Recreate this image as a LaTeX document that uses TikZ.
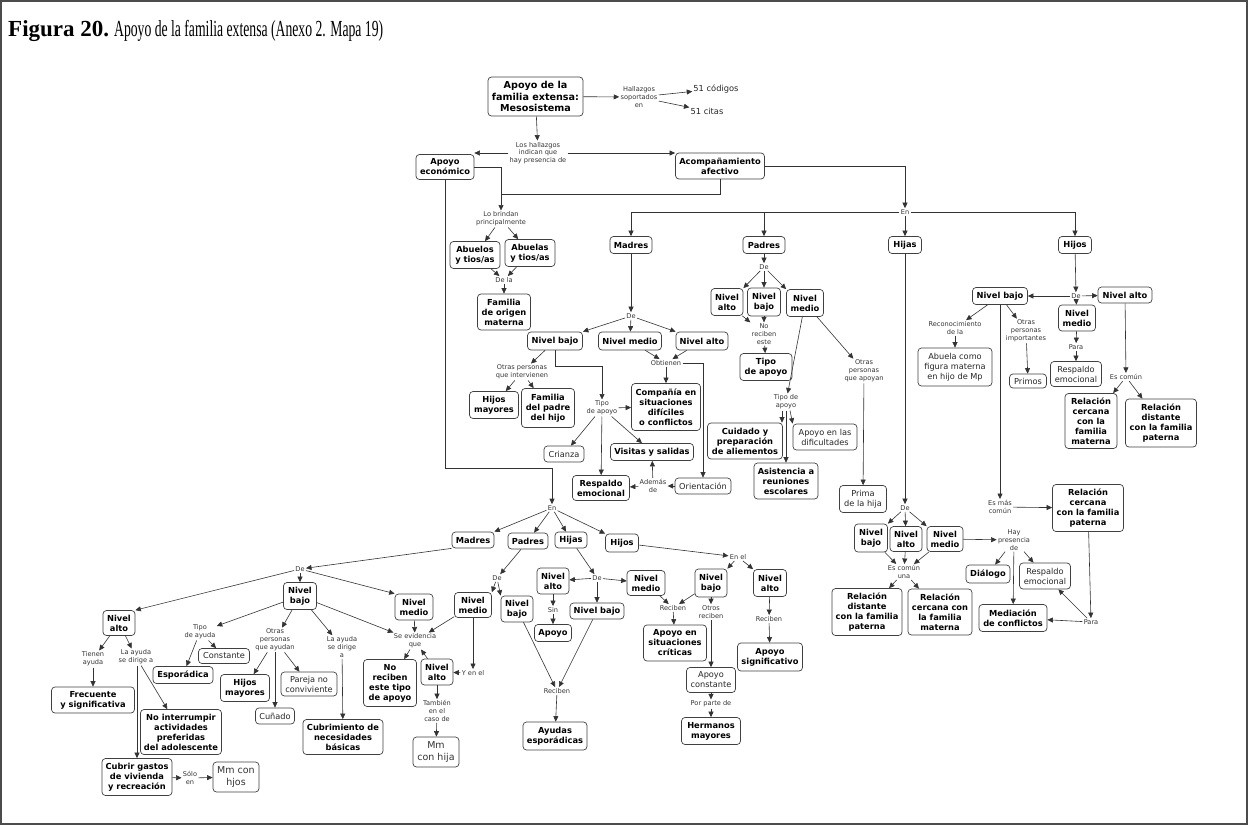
\documentclass[tikz,border=0pt]{standalone}
\usepackage{fontspec}
\usepackage{graphicx}
\setmainfont{DejaVu Sans}
\newfontfamily\ttlfont{Liberation Serif}
\usetikzlibrary{arrows.meta,calc}
\tikzset{
 bx/.style={draw=black!75, line width=0.7pt, rounded corners=3.5pt, fill=white, align=center, inner sep=1.5pt, font=\fontsize{8.3}{10}\selectfont\bfseries, text=black},
 rx/.style={bx, font=\fontsize{8.2}{10}\selectfont\mdseries, text=black!85},
 mx/.style={bx, font=\fontsize{9.5}{12}\selectfont\mdseries, text=black!80},
 rootbx/.style={bx, font=\fontsize{9.6}{11.5}\selectfont\bfseries},
 lk/.style={align=center, inner sep=1.2pt, font=\fontsize{6.6}{7.8}\selectfont, text=black!80},
 pt/.style={align=center, inner sep=1pt, font=\fontsize{8.3}{10}\selectfont, text=black!85},
 ar/.style={draw=black!80, line width=0.6pt, -{Triangle[length=5.5pt,width=5pt]}},
 ln/.style={draw=black!80, line width=0.6pt},
}
\newcommand\mybox[7][bx]{\node[#1,minimum width=#5,minimum height=#6] (#2) at (#3,#4) {#7};}
\newcommand\mylab[4]{\node[lk] (#1) at (#2,#3) {#4};}
\begin{document}
\begin{tikzpicture}[x=1pt,y=-1pt]
\useasboundingbox (0,0) rectangle (1248,825);
\draw[black!70, line width=1.5pt] (1,1) rectangle (1247,824);
\node[anchor=base west, inner sep=0, font=\fontsize{23}{23}\ttlfont] (title) at (8,36) {\textbf{Figura 20.}\hspace{5pt}\scalebox{0.595}[1]{Apoyo de la familia extensa (Anexo 2. Mapa 19)}};

% ---------- top ----------
\mybox[rootbx]{root}{535.5}{96.5}{95}{39}{Apoyo de la\\familia extensa:\\Mesosistema}
\mylab{lhall}{639}{97}{Hallazgos\\soportados\\en}
\node[pt] (c51) at (716,89) {51 códigos};
\node[pt] (c51b) at (707,111) {51 citas};
\draw[ar] (root) -- (lhall);
\draw[ar] (lhall) -- (c51);
\draw[ar] (lhall) -- (c51b);
\mylab{llos}{538}{153}{Los hallazgos\\indican que\\hay presencia de}
\draw[ar] (root) -- (llos);
\mybox{aeco}{445}{167}{58}{25}{Apoyo\\económico}
\mybox{acom}{720}{166}{89}{26}{Acompañamiento\\afectivo}
\draw[ar] (llos.west) -- (aeco.east |- llos.west);
\draw[ar] (llos.east) -- (acom.north west |- llos.east);

\mylab{llob}{501}{219}{Lo brindan\\principalmente}
\coordinate (j1) at (501,194);
\draw[ar] (aeco.east) -| (llob.north);
\draw[ln] (acom.south) |- (j1);
\mybox{aos}{475}{255}{50}{27}{Abuelos\\y tios/as}
\mybox{aas}{530}{253}{50}{27}{Abuelas\\y tios/as}
\draw[ar] (llob) -- (aos);
\draw[ar] (llob) -- (aas);
\mylab{ldela}{504}{280}{De la}
\draw[ar] (aos) -- (ldela);
\draw[ar] (aas) -- (ldela);
\mybox{fam}{504}{312}{53}{36}{Familia\\de origen\\materna}
\draw[ar] (ldela) -- (fam);

\mylab{lenA}{905}{212}{En}
\draw[ar] (acom.east) -| (lenA.north);
\mybox{madA}{631}{245}{42}{17}{Madres}
\mybox{padA}{764}{245}{42}{17}{Padres}
\mybox{hijaA}{905}{245}{33}{17}{Hijas}
\mybox{hijoA}{1075}{245}{33}{17}{Hijos}
\draw[ar] (lenA.west) -| (madA.north);
\draw[ar] (padA.north |- lenA.west) -- (padA.north);
\draw[ar] (lenA) -- (hijaA);
\draw[ar] (lenA.east) -| (hijoA.north);

% ---------- Madres (A) ----------
\mylab{ldeM}{631}{316}{De}
\draw[ar] (madA) -- (ldeM);
\mybox{nbM}{555}{341}{55}{18}{Nivel bajo}
\mybox{nmM}{630}{341}{63}{18}{Nivel medio}
\mybox{naM}{702}{341}{52}{18}{Nivel alto}
\draw[ar] (ldeM) -- (nbM.north east);
\draw[ar] (ldeM) -- (nmM);
\draw[ar] (ldeM) -- (naM.north west);
\mylab{lobt}{666}{363}{Obtienen}
\draw[ar] (nmM) -- (lobt);
\draw[ar] (naM) -- (lobt);
\mybox{comp}{666}{407}{69}{47}{Compañía en\\situaciones\\difíciles\\o conflictos}
\draw[ar] (lobt) -- (comp);
\mybox[rx]{orie}{703}{486}{56}{16}{Orientación}
\draw[ar] (lobt.east) -| (orie.north);
\mylab{lotM}{522}{372}{Otras personas\\que intervienen}
\draw[ar] (nbM) -- (lotM);
\mybox{hmM}{494}{405}{49}{27}{Hijos\\mayores}
\mybox{fpM}{548}{408}{53}{39}{Familia\\del padre\\del hijo}
\draw[ar] (lotM) -- (hmM);
\draw[ar] (lotM) -- (fpM);
\mylab{ltipM}{602}{408}{Tipo\\de apoyo}
\draw[ar] (nbM.south) |- ++(0,16) -| (ltipM.north);
\draw[ar] (ltipM) -- (comp);
\mybox[rx]{crian}{564}{454}{40}{16}{Crianza}
\mybox{visi}{652}{452}{83}{17}{Visitas y salidas}
\mybox{respM}{601}{488}{57}{25}{Respaldo\\emocional}
\draw[ar] (ltipM) -- (crian);
\draw[ar] (ltipM) -- (visi);
\draw[ar] (ltipM) -- (respM);
\mylab{ladem}{653}{486}{Además\\de}
\draw[ar] (orie) -- (ladem);
\draw[ar] (ladem) -- (respM);
\draw[ar] (ladem) -- (visi);

% ---------- Padres (A) ----------
\mylab{ldeP}{764}{267}{De}
\draw[ar] (padA) -- (ldeP);
\mybox{naP}{727}{302}{32}{27}{Nivel\\alto}
\mybox{nbP}{764}{302}{33}{28}{Nivel\\bajo}
\mybox{nmP}{805}{303}{37}{27}{Nivel\\medio}
\draw[ar] (ldeP) -- (naP.north east);
\draw[ar] (ldeP) -- (nbP);
\draw[ar] (ldeP) -- (nmP.north west);
\mylab{lnorec}{764}{334}{No\\reciben\\este}
\draw[ar] (nbP) -- (lnorec);
\draw[ar] ([xshift=-1pt]naP.south east) -- (lnorec.north west);
\mybox{tipoA}{766}{367}{52}{27}{Tipo\\de apoyo}
\draw[ar] (lnorec) -- (tipoA);
\mylab{ltipP}{786}{402}{Tipo de\\apoyo}
\draw[ar] (nmP) -- (ltipP);
\mylab{lotP}{864}{371}{Otras\\personas\\que apoyan}
\draw[ar] (nmP) -- (lotP);
\mybox[rx]{prima}{863}{499}{47}{27}{Prima\\de la hija}
\draw[ar] (lotP) -- (prima);
\mybox{cuid}{745}{441}{75}{36}{Cuidado y\\preparación\\de aliementos}
\mybox{asis}{786}{481}{64}{36}{Asistencia a\\reuniones\\escolares}
\mybox[rx]{apdif}{825}{437}{64}{26}{Apoyo en las\\dificultades}
\draw[ar] ([xshift=-4pt]ltipP.south) -- ([xshift=-4pt]ltipP.south |- cuid.north);
\draw[ar] (ltipP.south) -- (asis.north);
\draw[ar] ([xshift=4pt]ltipP.south) -- (apdif.north west);

% ---------- Hijas (A) ----------
\mylab{ldeH}{905}{508}{De}
\draw[ar] (hijaA) -- (ldeH);
\mybox{nbH}{871}{538}{33}{28}{Nivel\\bajo}
\mybox{naH}{906}{539}{32}{25}{Nivel\\alto}
\mybox{nmH}{945}{539}{36}{25}{Nivel\\medio}
\draw[ar] (ldeH) -- (nbH.north east);
\draw[ar] (ldeH) -- (naH);
\draw[ar] (ldeH) -- (nmH.north west);
\mylab{lcomun}{904}{572}{Es común\\una}
\draw[ar] (nbH) -- (lcomun);
\draw[ar] (naH) -- (lcomun);
\draw[ar] (nmH) -- (lcomun);
\mybox{rdp}{867}{612}{70}{47}{Relación\\distante\\con la familia\\paterna}
\mybox{rcm}{940}{612}{64}{46}{Relación\\cercana con\\la familia\\materna}
\draw[ar] (lcomun) -- (rdp);
\draw[ar] (lcomun) -- (rcm);
\mylab{lhay}{1014}{540}{Hay\\presencia\\de}
\draw[ar] (nmH) -- (lhay);
\mybox{dial}{988}{574}{44}{18}{Diálogo}
\mybox[rx]{respH}{1045}{576}{51}{26}{Respaldo\\emocional}
\mybox{medi}{1013}{618}{68}{27}{Mediación\\de conflictos}
\draw[ar] (lhay) -- (dial);
\draw[ar] (lhay) -- (respH);
\draw[ar] (lhay) -- (medi);
\mylab{lmas}{1000}{507}{Es más\\común}
\mybox{rcp}{1088}{508}{71}{47}{Relación\\cercana\\con la familia\\paterna}
\draw[ar] (lmas) -- (rcp);
\mylab{lpara2}{1091}{622}{Para}
\draw[ar] (rcp) -- (lpara2);
\draw[ar] (lpara2) -- (medi);
\draw[ar] (lpara2) -- (respH);

% ---------- Hijos (A) ----------
\mylab{ldeJ}{1076}{296}{De}
\draw[ar] (hijoA) -- (ldeJ);
\mybox{nbJ}{1000}{296}{55}{17}{Nivel bajo}
\mybox{naJ}{1125}{295}{54}{16}{Nivel alto}
\mybox{nmJ}{1077}{318}{37}{26}{Nivel\\medio}
\draw[ar] (ldeJ) -- (nbJ);
\draw[ar] (ldeJ) -- (naJ);
\draw[ar] (ldeJ) -- (nmJ);
\mylab{lparaJ}{1076}{347}{Para}
\draw[ar] (nmJ) -- (lparaJ);
\mybox[rx]{respJ}{1076}{374}{51}{25}{Respaldo\\emocional}
\draw[ar] (lparaJ) -- (respJ);
\mylab{lcomJ}{1126}{377}{Es común}
\draw[ar] (naJ) -- (lcomJ);
\mybox{rcmJ}{1091}{421}{52}{55}{Relación\\cercana\\con la\\familia\\materna}
\mybox{rdpJ}{1161}{423}{71}{48}{Relación\\distante\\con la familia\\paterna}
\draw[ar] (lcomJ) -- (rcmJ);
\draw[ar] (lcomJ) -- (rdpJ);
\mylab{lrecon}{955}{328}{Reconocimiento\\de la}
\draw[ar] (nbJ) -- (lrecon);
\mybox[rx]{abu}{955}{367}{74}{38}{Abuela como\\figura materna\\en hijo de Mp}
\draw[ar] (lrecon) -- (abu);
\mylab{lotJ}{1026}{331}{Otras\\personas\\importantes}
\draw[ar] (nbJ) -- (lotJ);
\mybox[rx]{primos}{1028}{381}{37}{14}{Primos}
\draw[ar] (lotJ) -- (primos);
\draw[ar] (nbJ) -- (lmas);

% ---------- bottom: En ----------
\mylab{lenB}{552}{508}{En}
\coordinate (j2) at (552,468);
\draw[ar] (aeco.south) |- (j2) -- (lenB.north);
\mybox{madB}{473}{540}{42}{16}{Madres}
\mybox{padB}{528}{541}{40}{16}{Padres}
\mybox{hijaB}{571}{540}{32}{16}{Hijas}
\mybox{hijoB}{622}{543}{33}{18}{Hijos}
\draw[ar] (lenB) -- (madB.north east);
\draw[ar] (lenB) -- (padB);
\draw[ar] (lenB) -- (hijaB);
\draw[ar] (lenB) -- (hijoB.north west);

% Hijos (B)
\mylab{lenel}{738}{557}{En el}
\draw[ar] (hijoB) -- (lenel);
\mybox{nbJB}{711}{583}{32}{28}{Nivel\\bajo}
\mybox{naJB}{770}{583}{33}{27}{Nivel\\alto}
\draw[ar] (lenel) -- (nbJB.north east);
\draw[ar] (lenel) -- (naJB.north west);
\mylab{lrec1}{673}{608}{Reciben}
\draw[ar] (nbJB) -- (lrec1);
\mybox{apsit}{675}{643}{63}{36}{Apoyo en\\situaciones\\críticas}
\draw[ar] (lrec1) -- (apsit);
\mylab{lotrec}{711}{612}{Otros\\reciben}
\draw[ar] (nbJB) -- (lotrec);
\mybox[rx]{apcon}{711}{680}{49}{25}{Apoyo\\constante}
\draw[ar] (lotrec) -- (apcon);
\mylab{lporp}{711}{704}{Por parte de}
\draw[ar] (apcon) -- (lporp);
\mybox{herm}{711}{731}{59}{27}{Hermanos\\mayores}
\draw[ar] (lporp) -- (herm);
\mylab{lrec2}{769}{619}{Reciben}
\draw[ar] (naJB) -- (lrec2);
\mybox{apsig}{770}{657}{65}{28}{Apoyo\\significativo}
\draw[ar] (lrec2) -- (apsig);

% Hijas (B)
\mylab{ldeHB}{597}{578}{De}
\draw[ar] (hijaB) -- (ldeHB);
\mybox{naHB}{553}{581}{32}{26}{Nivel\\alto}
\mybox{nmHB}{646}{583}{38}{25}{Nivel\\medio}
\mybox{nbHB}{597}{611}{54}{16}{Nivel bajo}
\draw[ar] (ldeHB) -- (naHB);
\draw[ar] (ldeHB) -- (nmHB);
\draw[ar] (ldeHB) -- (nbHB);
\draw[ar] (nmHB) -- (lrec1);
\mylab{lsin}{553}{610}{Sin}
\draw[ar] (naHB) -- (lsin);
\mybox{apoyo}{553}{633}{37}{17}{Apoyo}
\draw[ar] (lsin) -- (apoyo);

% Padres (B)
\mylab{ldePB}{497}{578}{De}
\draw[ar] (padB) -- (ldePB);
\mybox{nmPB}{473}{605}{37}{25}{Nivel\\medio}
\mybox{nbPB}{517}{609}{32}{26}{Nivel\\bajo}
\draw[ar] (ldePB) -- (nmPB.north east);
\draw[ar] (ldePB) -- (nbPB.north west);
\mylab{lrec3}{557}{691}{Reciben}
\draw[ar] (nbPB) -- (lrec3);
\draw[ar] (nbHB) -- (lrec3);
\mybox{ayesp}{555}{736}{64}{28}{Ayudas\\esporádicas}
\draw[ar] (lrec3) -- (ayesp);
\mylab{lseev}{415}{641}{Se evidencia\\que}
\draw[ar] (nmPB) -- (lseev);
\mylab{lyenel}{473}{673}{Y en el}
\draw[ar] (nmPB) -- (lyenel);
\mybox{naPB}{437}{672}{32}{26}{Nivel\\alto}
\draw[ar] (lyenel) -- (naPB);
\draw[ar] (naPB) -- (lseev);
\mybox{norec}{390}{683}{53}{47}{No\\reciben\\este tipo\\de apoyo}
\draw[ar] (lseev) -- (norec);
\mylab{ltamb}{437}{711}{También\\en el\\caso de}
\draw[ar] (naPB) -- (ltamb);
\mybox[mx]{mmhija}{436}{752}{46}{30}{Mm\\con hija}
\draw[ar] (ltamb) -- (mmhija);

% Madres (B)
\mylab{ldeMB}{300}{569}{De}
\draw[ar] (madB.south west) -- (ldeMB);
\mybox{naMB}{119}{623}{32}{25}{Nivel\\alto}
\mybox{nbMB}{300}{596}{33}{27}{Nivel\\bajo}
\mybox{nmMB}{414}{607}{38}{26}{Nivel\\medio}
\draw[ar] (ldeMB) -- (naMB.north east);
\draw[ar] (ldeMB) -- (nbMB);
\draw[ar] (ldeMB) -- (nmMB.north west);
\draw[ar] (nmMB) -- (lseev);
\draw[ar] (nbMB) -- (lseev);
\mylab{ltipa}{200}{632}{Tipo\\de ayuda}
\draw[ar] (nbMB) -- (ltipa);
\mybox{espo}{183}{675}{60}{17}{Esporádica}
\mybox[rx]{const}{224}{656}{51}{15}{Constante}
\draw[ar] (ltipa) -- (espo);
\draw[ar] (ltipa) -- (const);
\mylab{lotay}{275}{640}{Otras\\personas\\que ayudan}
\draw[ar] (nbMB) -- (lotay);
\mybox{hmMB}{245}{688}{49}{27}{Hijos\\mayores}
\mybox[rx]{pareja}{309}{684}{56}{24}{Pareja no\\conviviente}
\mybox[rx]{cun}{275}{716}{39}{16}{Cuñado}
\draw[ar] (lotay) -- (hmMB);
\draw[ar] (lotay) -- (pareja);
\draw[ar] (lotay) -- (cun);
\mylab{layd}{342}{647}{La ayuda\\se dirige\\a}
\draw[ar] (nbMB) -- (layd);
\mybox{cubn}{343}{737}{80}{35}{Cubrimiento de\\necesidades\\básicas}
\draw[ar] (layd) -- (cubn);
\mylab{ltien}{93}{659}{Tienen\\ayuda}
\draw[ar] (naMB) -- (ltien);
\mybox{frec}{93}{700}{83}{26}{Frecuente\\y significativa}
\draw[ar] (ltien) -- (frec);
\mylab{layd2}{136}{657}{La ayuda\\se dirige a}
\draw[ar] (naMB) -- (layd2);
\mybox{noint}{181}{732}{81}{45}{No interrumpir\\actividades\\preferidas\\del adolescente}
\mybox{cubr}{137}{777}{70}{37}{Cubrir gastos\\de vivienda\\y recreación}
\draw[ar] (layd2) -- (noint);
\draw[ar] (layd2.south -| cubr.north) -- (cubr.north);
\mylab{lsolo}{190}{778}{Sólo\\en}
\draw[ar] (cubr) -- (lsolo);
\mybox[mx]{mmhjos}{236}{777}{46}{30}{Mm con\\hjos}
\draw[ar] (lsolo) -- (mmhjos);
\end{tikzpicture}
\end{document}
